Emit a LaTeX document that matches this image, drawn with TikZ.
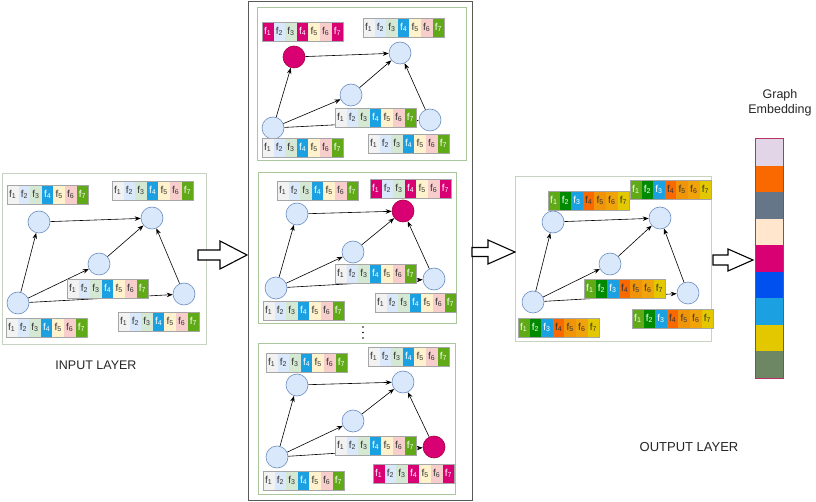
\documentclass[tikz,border=0pt]{standalone}
\usepackage{fontspec}
\setmainfont{Liberation Sans}
\usetikzlibrary{arrows.meta}
\definecolor{nodefill}{HTML}{DAE8FC}
\definecolor{nodeborder}{HTML}{6C8EBF}
\definecolor{magfill}{HTML}{D80073}
\definecolor{magborder}{HTML}{A50040}
\definecolor{cA}{HTML}{F2F2F2}
\definecolor{cB}{HTML}{DAE8FC}
\definecolor{cC}{HTML}{D5E8D4}
\definecolor{cD}{HTML}{1BA1E2}
\definecolor{cE}{HTML}{FFF2CC}
\definecolor{cF}{HTML}{F8CECC}
\definecolor{cG}{HTML}{60A917}
\definecolor{oB}{HTML}{008A00}
\definecolor{oD}{HTML}{FA6800}
\definecolor{oE}{HTML}{F0950A}
\definecolor{oF}{HTML}{F0A30A}
\definecolor{oG}{HTML}{E3C800}
\definecolor{txt}{HTML}{333333}
\definecolor{panelgreen}{HTML}{A9C79A}
\definecolor{panelgray}{HTML}{C8D2C0}
\definecolor{eA}{HTML}{E1D5E7}
\definecolor{eC}{HTML}{647687}
\definecolor{eD}{HTML}{FFE6CC}
\definecolor{eF}{HTML}{0050EF}
\definecolor{eI}{HTML}{6D8764}
\def\sIn{1/cA/txt,2/cB/txt,3/cC/txt,4/cD/white,5/cE/txt,6/cF/txt,7/cG/white}
\def\sMag{1/magfill/white,2/cB/txt,3/cC/txt,4/magfill/white,5/cE/txt,6/cF/txt,7/magfill/white}
\def\sOut{1/cG/white,2/oB/white,3/cD/white,4/oD/txt,5/oE/txt,6/oF/txt,7/oG/txt}
\newcommand\fbar[4]{%
  \foreach \i/\c/\t in #4 {%
    \node[cell, fill=\c, text=\t] (#1-\i) at ({#2+(\i-0.5)*11.6},{#3+9.5}) {f\textsubscript{\i}};
  }%
  \draw[barline] (#1-1.north west) rectangle (#1-7.south east);
}
\tikzset{
  circ/.style={circle, draw=nodeborder, fill=nodefill, minimum size=22pt, inner sep=0pt, line width=0.6pt},
  hot/.style={circle, draw=magborder, fill=magfill, minimum size=22pt, inner sep=0pt, line width=0.6pt},
  edge/.style={-{Stealth[length=6pt,width=4.5pt]}, line width=0.6pt, black},
  cell/.style={minimum width=11.6pt, minimum height=19pt, inner sep=0pt, font=\fontsize{10}{10}\selectfont},
  barline/.style={draw=gray!70, line width=0.5pt},
  panel/.style={draw=panelgreen, line width=0.7pt},
  graypanel/.style={draw=panelgray, line width=0.8pt},
  outerbox/.style={draw=black!65, line width=0.9pt},
  hollow/.style={draw=black, line width=1.1pt, fill=white, line join=miter},
  label/.style={font=\fontsize{12.5}{14}\selectfont, text=black!85},
  embcell/.style={minimum width=27pt, minimum height=26.55pt, inner sep=0pt, draw=none}
}
\begin{document}
\begin{tikzpicture}[x=1pt,y=-1pt]
\useasboundingbox[fill=white] (0,0) rectangle (816,502);

% ---------- frames ----------
\draw[graypanel] (2,173) rectangle (206,344);
\draw[outerbox] (248,1) rectangle (472,500);
\draw[panel] (257,7) rectangle (466,160);
\draw[panel] (258,172) rectangle (456,323);
\draw[panel] (258,343) rectangle (455,494);
\draw[graypanel] (515,176) rectangle (711,341);

% ---------- input layer ----------
\node[circ] (iA) at (39,222) {};
\node[circ] (iB) at (152,218) {};
\node[circ] (iC) at (99,264) {};
\node[circ] (iD) at (18,303) {};
\node[circ] (iE) at (184,294) {};
\draw[edge] (iD) -- (iA);
\draw[edge] (iD) -- (iC);
\draw[edge] (iD) -- (iE);
\draw[edge] (iA) -- (iB);
\draw[edge] (iC) -- (iB);
\draw[edge] (iE) -- (iB);
\fbar{ibA}{7}{185}{\sIn}
\fbar{ibB}{112}{181}{\sIn}
\fbar{ibC}{67}{279}{\sIn}
\fbar{ibD}{6}{318}{\sIn}
\fbar{ibE}{118}{312}{\sIn}
\node[label] (inlabel) at (96,365) {INPUT LAYER};

% ---------- panel 1 ----------
\node[hot] (aA) at (294,57) {};
\node[circ] (aB) at (400,53) {};
\node[circ] (aC) at (351,95) {};
\node[circ] (aD) at (273,128) {};
\node[circ] (aE) at (430,120) {};
\draw[edge] (aD) -- (aA);
\draw[edge] (aD) -- (aC);
\draw[edge] (aD) -- (aE);
\draw[edge] (aA) -- (aB);
\draw[edge] (aC) -- (aB);
\draw[edge] (aE) -- (aB);
\fbar{abA}{262}{22}{\sMag}
\fbar{abB}{363}{18}{\sIn}
\fbar{abC}{335}{108}{\sIn}
\fbar{abD}{262}{138}{\sIn}
\fbar{abE}{368}{134}{\sIn}

% ---------- panel 2 ----------
\node[circ] (bA) at (297,214) {};
\node[hot] (bB) at (403,211) {};
\node[circ] (bC) at (353,252) {};
\node[circ] (bD) at (276,288) {};
\node[circ] (bE) at (434,279) {};
\draw[edge] (bD) -- (bA);
\draw[edge] (bD) -- (bC);
\draw[edge] (bD) -- (bE);
\draw[edge] (bA) -- (bB);
\draw[edge] (bC) -- (bB);
\draw[edge] (bE) -- (bB);
\fbar{bbA}{277}{181}{\sIn}
\fbar{bbB}{370}{179}{\sMag}
\fbar{bbC}{335}{264}{\sIn}
\fbar{bbD}{263}{301}{\sIn}
\fbar{bbE}{375}{293}{\sIn}

% vertical dots
\fill (363,327) circle (0.9);
\fill (363,332.5) circle (0.9);
\fill (363,338) circle (0.9);

% ---------- panel 3 ----------
\node[circ] (cA) at (297,385) {};
\node[circ] (cB) at (403,382) {};
\node[circ] (cC) at (353,421) {};
\node[circ] (cD) at (277,457) {};
\node[hot] (cE) at (434,447) {};
\draw[edge] (cD) -- (cA);
\draw[edge] (cD) -- (cC);
\draw[edge] (cD) -- (cE);
\draw[edge] (cA) -- (cB);
\draw[edge] (cC) -- (cB);
\draw[edge] (cE) -- (cB);
\fbar{cbA}{266}{353}{\sIn}
\fbar{cbB}{368}{347}{\sIn}
\fbar{cbC}{335}{436}{\sIn}
\fbar{cbD}{263}{471}{\sIn}
\fbar{cbE}{373}{464}{\sMag}

% ---------- output layer ----------
\node[circ] (oA) at (553,222) {};
\node[circ] (oB) at (660,218) {};
\node[circ] (oC) at (610,264) {};
\node[circ] (oD) at (533,302) {};
\node[circ] (oE) at (688,293) {};
\draw[edge] (oD) -- (oA);
\draw[edge] (oD) -- (oC);
\draw[edge] (oD) -- (oE);
\draw[edge] (oA) -- (oB);
\draw[edge] (oC) -- (oB);
\draw[edge] (oE) -- (oB);
\fbar{obA}{548}{191}{\sOut}
\fbar{obB}{630}{180}{\sOut}
\fbar{obC}{584}{279}{\sOut}
\fbar{obD}{518}{318}{\sOut}
\fbar{obE}{632}{309}{\sOut}
\node[label, font=\fontsize{13}{15}\selectfont] (outlabel) at (689,447) {OUTPUT LAYER};

% ---------- hollow arrows ----------
\draw[hollow] (198,250) -- (220,250) -- (220,241) -- (247,255) -- (220,269) -- (220,260) -- (198,260) -- cycle;
\draw[hollow] (472,247.5) -- (488,247.5) -- (488,240) -- (515,252) -- (488,264) -- (488,256.5) -- (472,256.5) -- cycle;
\draw[hollow] (713,255) -- (728,255) -- (728,249) -- (753,260) -- (728,271) -- (728,265) -- (713,265) -- cycle;

% ---------- graph embedding ----------
\foreach \k/\col in {1/eA,2/oD,3/eC,4/eD,5/magfill,6/eF,7/cD,8/oG,9/eI} {
  \node[embcell, fill=\col] (emb\k) at (769.5,{139+(\k-0.5)*26.55}) {};
}
\draw[draw=magborder!80, line width=0.8pt] (emb1.north west) rectangle (emb9.south east);
\node[label, font=\fontsize{12.5}{15}\selectfont, align=center] (embtitle) at (780,103) {Graph\\Embedding};
\end{tikzpicture}
\end{document}
